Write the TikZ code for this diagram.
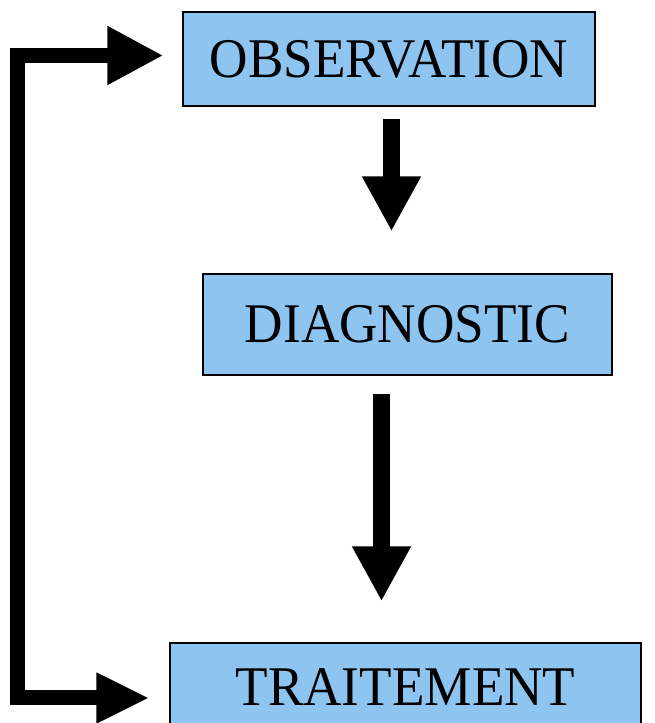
\documentclass[tikz,border=0pt]{standalone}
\usepackage{fontspec}
\setmainfont{Liberation Serif}
\usepackage{xcolor}
\usetikzlibrary{arrows.meta}

\definecolor{boxblue}{RGB}{141,196,240}
\newcommand{\boxtext}[1]{\scalebox{0.95}[1]{#1}}

\begin{document}
\begin{tikzpicture}[x=1pt,y=1pt]
    \useasboundingbox (0,0) rectangle (654,723);

    \begin{scope}[every node/.style={rectangle,draw,line width=1.2pt,fill=boxblue,inner sep=0pt,font=\fontsize{56}{60}\selectfont}]
        \node[minimum width=412pt,minimum height=94pt] (obs) at (389,664) {\boxtext{OBSERVATION}};
        \node[minimum width=409pt,minimum height=101pt] (diag) at (407.5,398.5) {\boxtext{DIAGNOSTIC}};
        \node[minimum width=471pt,minimum height=97pt] (trait) at (405.5,31.5) {\raisebox{8pt}{\boxtext{TRAITEMENT}}};
    \end{scope}

    \coordinate (top) at (17.5,667.5);
    \coordinate (bot) at (17.5,25);

    \begin{scope}[every path/.style={line width=17pt,-{Triangle[width=55pt,length=55pt]}}]
        \path ([xshift=2.5pt]obs.south) edge [shorten <=12pt,shorten >=42pt] ([xshift=2.5pt]obs.south |- diag.north);
        \path ([xshift=-26pt]diag.south) edge [shorten <=18pt,shorten >=41pt] ([xshift=-26pt]diag.south |- trait.north);
    \end{scope}

    % loop back from the treatment to the observation
    \draw[line width=15pt,line join=miter,{Triangle[width=55pt,length=56pt]}-{Triangle[width=47pt,length=53pt]},shorten <=19pt,shorten >=20pt]
        (top -| obs.west) -- (top) -- (bot) -- (bot -| trait.west);
\end{tikzpicture}
\end{document}
